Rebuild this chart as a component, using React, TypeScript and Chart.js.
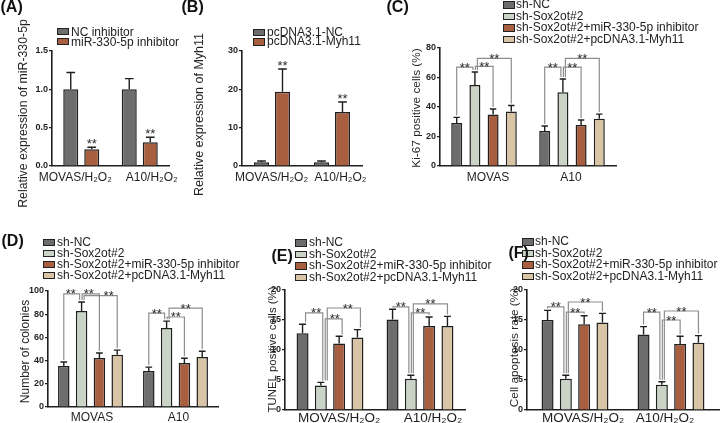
import React, { useEffect, useRef } from 'react';
import { Chart, registerables } from 'chart.js';

Chart.register(...registerables);

const FONT = '"Liberation Sans", Arial, Helvetica, sans-serif';
const INK = '#1f1f1f';
const BRACKET = '#8e8e8e';

const GREY = '#6d6d6d';
const BROWN = '#a85f3f';
const SAGE = '#cad4c6';
const BEIGE = '#d9c5a6';

// ---------------- data ----------------
const catsH2O2 = ['MOVAS/H₂O₂', 'A10/H₂O₂'];
const catsCell = ['MOVAS', 'A10'];

const legendA = ['NC inhibitor', 'miR-330-5p inhibitor'];
const legendB = ['pcDNA3.1-NC', 'pcDNA3.1-Myh11'];
const legend4 = ['sh-NC', 'sh-Sox2ot#2', 'sh-Sox2ot#2+miR-330-5p inhibitor', 'sh-Sox2ot#2+pcDNA3.1-Myh11'];

// (A) relative expression of miR-330-5p
const aNC = [1.0, 1.0];
const aNCsd = [0.22, 0.14];
const aInh = [0.22, 0.31];
const aInhSd = [0.025, 0.065];

// (B) relative expression of Myh11
const bNC = [1.0, 1.0];
const bNCsd = [0.3, 0.3];
const bMyh = [19.4, 14.1];
const bMyhSd = [5.9, 2.6];

// (C) Ki-67 positive cells (%)
const cNC = [29.2, 23.7];
const cNCsd = [3.8, 3.4];
const cSox = [55, 50];
const cSoxSd = [8.7, 9];
const cInh = [35, 27.8];
const cInhSd = [3.6, 3.4];
const cMyh = [37, 32];
const cMyhSd = [4, 3.2];

// (D) number of colonies
const dNC = [35.3, 31];
const dNCsd = [3.5, 3.4];
const dSox = [82.8, 68];
const dSoxSd = [7.7, 6];
const dInh = [42.2, 38];
const dInhSd = [4.3, 4];
const dMyh = [45, 43];
const dMyhSd = [4, 5];

// (E) TUNEL positive cells (%)
const eNC = [12.8, 15.1];
const eNCsd = [1.5, 1.7];
const eSox = [4.1, 5.2];
const eSoxSd = [0.5, 0.6];
const eInh = [11.1, 14.0];
const eInhSd = [1.2, 1.5];
const eMyh = [12.1, 14.0];
const eMyhSd = [1.3, 1.6];

// (F) cell apoptosis rate (%)
const fNC = [15.0, 12.6];
const fNCsd = [1.6, 1.3];
const fSox = [5.2, 4.2];
const fSoxSd = [0.6, 0.5];
const fInh = [14.3, 11.0];
const fInhSd = [1.4, 1.3];
const fMyh = [14.6, 11.2];
const fMyhSd = [1.5, 1.2];

// significance comparisons (bar index pairs) and bracket heights (data units) per group
const pairs = [[0, 1], [1, 2], [1, 3]];
const cBrk = [[67, 67.5, 73], [67, 67, 73]];
const dBrk = [[97.5, 97.5, 96], [81, 77.6, 85.3]];
const eBrk = [[16.2, 15.2, 17], [17.2, 16.2, 17.7]];
const fBrk = [[17.2, 16.3, 18], [16.3, 15, 16.5]];

// ---------------- layout ----------------
type Series = { name: string; data: number[]; sd: number[]; color: string };
type Panel = {
  key: string;
  label: string;
  labelPos: [number, number];
  cats: string[];
  series: Series[];
  yMax: number;
  yStep: number;
  decimals: number;
  yTitle: string;
  yTitlePos: [number, number];
  yTitleSize: number;
  xFontSize: number;
  xBase: number;
  xOff: number[];
  box: { axisX: number; top: number; bottom: number; w: number; cl: number; ct: number; cr: number; cb: number };
  catPct: number;
  barPct: number;
  stars?: number[];
  brackets?: number[][];
  brShift?: number[];
  starShift?: number[][];
  legend: { x: number; y: number; dy: number; textX: number };
};

const four = (m: number[][], s: number[][]): Series[] =>
  legend4.map((n, i) => ({ name: n, data: m[i], sd: s[i], color: [GREY, SAGE, BROWN, BEIGE][i] }));

const panels: Panel[] = [
  {
    key: 'A', label: '(A)', labelPos: [0.5, 12.3], cats: catsH2O2,
    series: [
      { name: legendA[0], data: aNC, sd: aNCsd, color: GREY },
      { name: legendA[1], data: aInh, sd: aInhSd, color: BROWN },
    ],
    yMax: 1.5, yStep: 0.5, decimals: 1,
    yTitle: 'Relative expression of miR-330-5p', yTitlePos: [23.5, 113.5], yTitleSize: 12.3,
    xFontSize: 12, xBase: 180.5, xOff: [-6, 12],
    box: { axisX: 52, top: 51, bottom: 166, w: 117, cl: 8, ct: 14, cr: 182, cb: 212 },
    catPct: 0.718, barPct: 0.714, stars: [1],
    legend: { x: 57, y: 31.7, dy: 10, textX: 71 },
  },
  {
    key: 'B', label: '(B)', labelPos: [181.5, 12.3], cats: catsH2O2,
    series: [
      { name: legendB[0], data: bNC, sd: bNCsd, color: GREY },
      { name: legendB[1], data: bMyh, sd: bMyhSd, color: BROWN },
    ],
    yMax: 30, yStep: 10, decimals: 0,
    yTitle: 'Relative expression of Myh11', yTitlePos: [199.5, 114.5], yTitleSize: 12.5,
    xFontSize: 12, xBase: 180.5, xOff: [-0.5, 8.5],
    box: { axisX: 242, top: 51, bottom: 166, w: 120, cl: 190, ct: 14, cr: 372, cb: 212 },
    catPct: 0.7, barPct: 0.714, stars: [1],
    legend: { x: 253, y: 32.5, dy: 9.7, textX: 267 },
  },
  {
    key: 'C', label: '(C)', labelPos: [386.5, 12.8], cats: catsCell,
    series: four([cNC, cSox, cInh, cMyh], [cNCsd, cSoxSd, cInhSd, cMyhSd]),
    yMax: 80, yStep: 20, decimals: 0,
    yTitle: 'Ki-67 positive cells (%)', yTitlePos: [417, 108], yTitleSize: 11.8,
    xFontSize: 12, xBase: 180.5, xOff: [4, -1],
    box: { axisX: 440, top: 48, bottom: 166, w: 176, cl: 405, ct: 30, cr: 622, cb: 196 },
    catPct: 0.827, barPct: 0.604, brackets: cBrk,
    legend: { x: 503, y: 5, dy: 11.5, textX: 516 },
  },
  {
    key: 'D', label: '(D)', labelPos: [1.5, 246.3], cats: catsCell,
    series: four([dNC, dSox, dInh, dMyh], [dNCsd, dSoxSd, dInhSd, dMyhSd]),
    yMax: 100, yStep: 20, decimals: 0,
    yTitle: 'Number of colonies', yTitlePos: [26, 351.5], yTitleSize: 12,
    xFontSize: 12, xBase: 420.5, xOff: [1.5, 3],
    box: { axisX: 48, top: 291, bottom: 407, w: 170, cl: 14, ct: 280, cr: 232, cb: 423 },
    catPct: 0.838, barPct: 0.646, brackets: dBrk, starShift: [[-1, -2, 8], [0, 0, 0]],
    legend: { x: 43, y: 242.3, dy: 11.1, textX: 57 },
  },
  {
    key: 'E', label: '(E)', labelPos: [271.5, 261.8], cats: catsH2O2,
    series: four([eNC, eSox, eInh, eMyh], [eNCsd, eSoxSd, eInhSd, eMyhSd]),
    yMax: 20, yStep: 5, decimals: 0,
    yTitle: 'TUNEL positive cells (%)', yTitlePos: [272.5, 349.5], yTitleSize: 11.4,
    xFontSize: 13.5, xBase: 421.5, xOff: [9, 13],
    box: { axisX: 285, top: 290, bottom: 410, w: 180, cl: 262, ct: 280, cr: 472, cb: 423 },
    catPct: 0.813, barPct: 0.656, brackets: eBrk, brShift: [3, 0], starShift: [[2, 1, 4], [0, 0, 0]],
    legend: { x: 295, y: 243, dy: 11.5, textX: 309 },
  },
  {
    key: 'F', label: '(F)', labelPos: [508.5, 258.3], cats: catsH2O2,
    series: four([fNC, fSox, fInh, fMyh], [fNCsd, fSoxSd, fInhSd, fMyhSd]),
    yMax: 20, yStep: 5, decimals: 0,
    yTitle: 'Cell apoptosis rate (%)', yTitlePos: [515, 347.5], yTitleSize: 11.8,
    xFontSize: 13.5, xBase: 421.5, xOff: [8, -6],
    box: { axisX: 527, top: 290, bottom: 410, w: 192, cl: 505, ct: 280, cr: 720, cb: 423 },
    catPct: 0.7625, barPct: 0.656, brackets: fBrk,
    legend: { x: 522, y: 242, dy: 11.5, textX: 535 },
  },
];

function decoPlugin(p: Panel) {
  return {
    id: 'deco' + p.key,
    afterDatasetsDraw(chart: any) {
      const ctx = chart.ctx as CanvasRenderingContext2D;
      const ys = chart.scales.y;
      const xs = chart.scales.x;
      const g = p.box;
      const centers: number[][] = p.series.map((_, k) => chart.getDatasetMeta(k).data.map((el: any) => el.x));
      const errPix: number[][] = p.series.map((s) => s.data.map((v, i) => ys.getPixelForValue(v + s.sd[i])));
      ctx.save();
      // error bars (upper only)
      ctx.strokeStyle = INK;
      ctx.lineWidth = 1.4;
      p.series.forEach((s, k) => {
        const meta = chart.getDatasetMeta(k);
        meta.data.forEach((el: any, i: number) => {
          const x = el.x;
          const top = el.y;
          const ey = errPix[k][i];
          const cap = el.width * 0.58;
          ctx.beginPath();
          ctx.moveTo(x, top);
          ctx.lineTo(x, ey);
          ctx.moveTo(x - cap / 2, ey);
          ctx.lineTo(x + cap / 2, ey);
          ctx.stroke();
        });
      });
      // stars over single bars
      ctx.fillStyle = '#2a2a2a';
      ctx.font = `13px ${FONT}`;
      ctx.textAlign = 'center';
      ctx.textBaseline = 'alphabetic';
      (p.stars || []).forEach((k) => {
        centers[k].forEach((x, i) => {
          ctx.fillText('**', x, errPix[k][i] + 1);
        });
      });
      // significance brackets
      if (p.brackets) {
        const soxOffset = [-2, 0.5, 2.5];
        p.brackets.forEach((hs, i) => {
          const sh = p.brShift ? p.brShift[i] : 0;
          pairs.forEach(([a, b], j) => {
            const yl = ys.getPixelForValue(hs[j]);
            const xa = centers[a][i] + (a === 1 ? soxOffset[j] + sh * 1.3 : sh);
            const xb = centers[b][i] + (b === 1 ? soxOffset[j] + sh * 1.3 : sh);
            ctx.strokeStyle = BRACKET;
            ctx.lineWidth = 1.2;
            ctx.beginPath();
            ctx.moveTo(xa, errPix[a][i] - 2);
            ctx.lineTo(xa, yl);
            ctx.lineTo(xb, yl);
            ctx.lineTo(xb, errPix[b][i] - 2);
            ctx.stroke();
            ctx.fillStyle = '#2a2a2a';
            const ss = p.starShift ? p.starShift[i][j] : 0;
            ctx.fillText('**', (xa + xb) / 2 + ss, yl + 4.5);
          });
        });
      }
      // category labels
      ctx.fillStyle = INK;
      ctx.font = `${p.xFontSize}px ${FONT}`;
      ctx.textAlign = 'center';
      ctx.textBaseline = 'alphabetic';
      p.cats.forEach((c, i) => {
        ctx.fillText(c, xs.getPixelForTick(i) + p.xOff[i], p.xBase - g.ct);
      });
      // y axis title
      ctx.translate(p.yTitlePos[0] - g.cl, p.yTitlePos[1] - g.ct);
      ctx.rotate(-Math.PI / 2);
      ctx.fillStyle = '#262626';
      ctx.font = `${p.yTitleSize}px ${FONT}`;
      ctx.textAlign = 'center';
      ctx.textBaseline = 'middle';
      ctx.fillText(p.yTitle, 0, 0);
      ctx.restore();
    },
  };
}

function PanelChart({ p }: { p: Panel }) {
  const ref = useRef<HTMLCanvasElement>(null);
  const g = p.box;
  useEffect(() => {
    const YW = g.axisX - g.cl;
    const PT = g.top - g.ct;
    const XH = g.cb - g.bottom;
    const PR = g.cr - g.cl - YW - g.w;
    const chart = new Chart(ref.current as HTMLCanvasElement, {
      type: 'bar',
      data: {
        labels: p.cats,
        datasets: p.series.map((s) => ({
          label: s.name,
          data: s.data,
          backgroundColor: s.color,
          borderColor: INK,
          borderWidth: 1.5,
          categoryPercentage: p.catPct,
          barPercentage: p.barPct,
        })),
      },
      options: {
        responsive: false,
        animation: false,
        devicePixelRatio: 1,
        events: [],
        layout: { padding: { left: 0, top: PT, right: PR, bottom: 0 } },
        plugins: { legend: { display: false }, tooltip: { enabled: false }, title: { display: false } },
        scales: {
          x: {
            type: 'category',
            grid: { display: false },
            border: { display: true, color: INK, width: 1.6 },
            ticks: { display: false },
            afterFit: (s: any) => {
              s.height = XH;
            },
          },
          y: {
            min: 0,
            max: p.yMax,
            ticks: {
              stepSize: p.yStep,
              color: INK,
              font: { family: FONT, size: 9, weight: 'bold' },
              padding: 1,
              callback: (v: any) => Number(v).toFixed(p.decimals),
            },
            grid: { display: true, drawOnChartArea: false, drawTicks: true, tickLength: 3, color: INK, lineWidth: 1.2 },
            border: { display: true, color: INK, width: 1.6 },
            afterFit: (s: any) => {
              s.width = YW;
            },
          },
        },
      } as any,
      plugins: [decoPlugin(p) as any],
    });
    return () => chart.destroy();
  }, []);
  return (
    <canvas
      ref={ref}
      width={g.cr - g.cl}
      height={g.cb - g.ct}
      style={{ position: 'absolute', left: g.cl, top: g.ct }}
    />
  );
}

function Legend({ p }: { p: Panel }) {
  const { x, y, dy, textX } = p.legend;
  return (
    <div style={{ position: 'absolute', left: x, top: y - dy / 2 }}>
      {p.series.map((s, i) => (
        <div
          key={i}
          style={{
            position: 'absolute',
            left: 0,
            top: i * dy,
            height: dy,
            lineHeight: `${dy}px`,
            whiteSpace: 'nowrap',
            fontSize: 12,
            color: '#222',
          }}
        >
          <span
            style={{
              position: 'absolute',
              left: 0,
              top: (dy - 7.5) / 2,
              width: 11.5,
              height: 7.5,
              background: s.color,
              border: '1px solid #222',
              boxSizing: 'border-box',
            }}
          />
          <span style={{ position: 'absolute', left: textX - x, top: 0 }}>{s.name}</span>
        </div>
      ))}
    </div>
  );
}

export default function App() {
  return (
    <div
      style={{
        position: 'absolute',
        left: 0,
        top: 0,
        width: 720,
        height: 423,
        background: '#fff',
        overflow: 'hidden',
        fontFamily: FONT,
      }}
    >
      {panels.map((p) => (
        <PanelChart key={'c' + p.key} p={p} />
      ))}
      {panels.map((p) => (
        <Legend key={'l' + p.key} p={p} />
      ))}
      {panels.map((p) => (
        <div
          key={'t' + p.key}
          style={{
            position: 'absolute',
            left: p.labelPos[0],
            top: p.labelPos[1] - 13.5,
            fontSize: 16,
            lineHeight: '16px',
            fontWeight: 'bold',
            color: '#111',
            whiteSpace: 'nowrap',
          }}
        >
          {p.label}
        </div>
      ))}
    </div>
  );
}
